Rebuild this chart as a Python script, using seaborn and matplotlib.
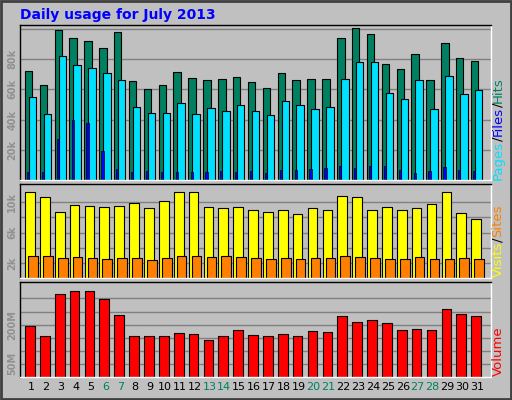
import numpy as np
import matplotlib
matplotlib.use("Agg")
import matplotlib.pyplot as plt
import seaborn as sns
import pandas as pd

days = list(range(1, 32))
hits = [71.9,62.6,99,93.7,91.7,87.1,97.7,65.3,60,62.6,71.2,67.3,65.9,66.6,67.9,64.6,60.6,70.6,65.9,66.6,66.6,93.7,100.3,96.4,76.5,73.2,83.1,65.9,90.4,80.5,78.5]
files = [54.7,43.4,81.8,75.9,73.9,70.6,65.9,48.1,44.1,44.1,50.7,43.4,47.4,45.4,49.4,45.4,42.8,52,49.4,46.7,48.1,66.6,77.8,77.8,57.3,53.4,65.9,46.7,68.6,56.7,59.3]
pages = [5.1,5.1,26.9,39.5,37.5,19,7,5.1,5.7,5.1,5.1,5.1,5.1,5.7,5.1,5.7,4.4,6.4,6.4,7,7.7,9,7.7,9,9,6.4,4.4,5.7,8.4,6.4,5.7]
visits = [11.3,10.65,8.7,9.6,9.5,9.35,9.5,9.87,9.2,10.1,11.3,11.4,9.35,9.2,9.35,8.96,8.7,8.96,8.44,9.2,8.96,10.8,10.65,8.96,9.35,8.96,9.2,9.74,11.4,8.57,7.8]
sites = [2.86,2.86,2.6,2.73,2.6,2.47,2.6,2.6,2.34,2.6,2.86,2.86,2.73,2.86,2.73,2.6,2.47,2.6,2.47,2.6,2.6,2.86,2.73,2.6,2.47,2.47,2.73,2.47,2.47,2.6,2.47]
volume = [195,158,316,330,327,298,235,158,155,158,170,166,140,158,180,162,158,166,155,177,173,232,210,217,206,180,184,180,261,239,232]
weekends = [6,7,13,14,20,21,27,28]

sns.set_theme(style="white")
plt.rcParams['font.family'] = ['DejaVu Sans']
BG = "#c0c0c0"
fig = plt.figure(figsize=(5.12, 4.0), dpi=100, facecolor=BG)
W, H = 512, 400
def ax_at(x0, y0, x1, y1):
    return fig.add_axes([x0/W, 1-y1/H, (x1-x0)/W, (y1-y0)/H])

fig.patches.append(plt.Rectangle((0.002,0.002),0.996,0.996, transform=fig.transFigure, fill=False, edgecolor="#404040", lw=2))
fig.text(20/W, 1-15/H, "Daily usage for July 2013", color="#0000ff", fontsize=10, fontweight="bold", va="center")

d = np.array(days, dtype=float)
xl = (0.26, 31.93)
ec = dict(edgecolor="black", linewidth=0.8)

def style(ax, ticks, labels, ymax):
    ax.set_facecolor(BG)
    ax.set_xlim(*xl); ax.set_ylim(0, ymax)
    ax.set_yticks(ticks)
    ax.set_yticklabels(labels, rotation=90, va="center", color="#909090", fontsize=7, fontweight="bold")
    ax.tick_params(axis="y", length=0, pad=2)
    ax.yaxis.grid(True, color="#808080", lw=1); ax.set_axisbelow(True)
    for s in ax.spines.values():
        s.set_color("black"); s.set_linewidth(1)
    ax.spines["bottom"].set_color("white"); ax.spines["right"].set_color("white")
    ax.set_xticks([])

ax1 = ax_at(20, 25, 491, 180)
ax1.bar(d-0.17, hits, width=0.5, color="#008060", **ec)
ax1.bar(d+0.1, files, width=0.5, color="#00e0ff", **ec)
ax1.bar(d-0.2, pages, width=0.15, color="#0000ff", edgecolor="black", linewidth=0.5)
style(ax1, [20,40,60,80,100], ["20k","40k","60k","80k",""], 102.5)

ax2 = ax_at(20, 184, 491, 278)
ax2.bar(d-0.07, visits, width=0.65, color="#ffff00", **ec)
ax2.bar(d+0.13, sites, width=0.65, color="#ff8000", **ec)
style(ax2, [2,4,6,8,10], ["2k","","6k","","10k"], 12.4)

ax3 = ax_at(20, 282, 491, 377)
df = pd.DataFrame({"day": d-0.07, "volume": volume})
sns.barplot(data=df, x="day", y="volume", native_scale=True, width=0.65, color="#ff0000", saturation=1, ax=ax3, **ec)
ax3.set_xlabel(""); ax3.set_ylabel("")
style(ax3, [50,100,150,200,250,300], ["50M","","","200M","",""], 363)

for dd in days:
    fig.text((31 + (dd-1)*14.87)/W, 1-387/H, str(dd), ha="center", va="center", fontsize=8,
             color="#008060" if dd in weekends else "black")

fig.canvas.draw()
r = fig.canvas.get_renderer()
def stack(parts, ybot, x=498):
    y = ybot
    for s, c in parts:
        t = fig.text(x/W, 1-y/H, s, rotation=90, color=c, fontsize=9.5, ha="center", va="bottom")
        bb = t.get_window_extent(r)
        y -= bb.height
stack([("Pages","#00e0ff"),("/","black"),("Files","#0000ff"),("/","black"),("Hits","#008060")], 180)
stack([("Visits","#ffff00"),("/","black"),("Sites","#ff8000")], 277)
stack([("Volume","#ff0000")], 376)

fig.savefig("out.png", dpi=100, facecolor=BG)
